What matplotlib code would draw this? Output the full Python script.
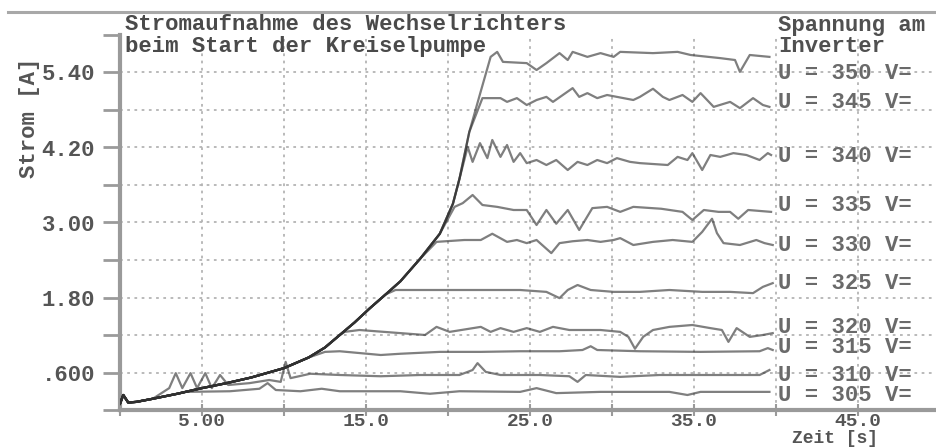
import matplotlib
matplotlib.use("Agg")
import matplotlib.pyplot as plt
from matplotlib.lines import Line2D
import numpy as np

# ---------------- data ----------------
# common start-up rise of the current (all runs follow it until they level off)
rise_t = [0.0, 0.2, 0.5, 1.0, 2.0, 3.5, 5.0, 6.5, 8.0, 10.0, 11.5, 12.5, 13.4, 14.3,
          15.2, 16.2, 17.1, 18.3, 19.5, 20.3, 20.7, 21.3, 22.0, 22.6, 23.0]
rise_v = [0.10, 0.24, 0.12, 0.13, 0.18, 0.26, 0.35, 0.43, 0.52, 0.67, 0.84, 1.00, 1.20, 1.40,
          1.62, 1.85, 2.06, 2.42, 2.82, 3.30, 3.70, 4.45, 5.10, 5.65, 5.73]

voltages = [350, 345, 340, 335, 330, 325, 320, 315, 310, 305]

t350 = [23.0, 23.35, 24.8, 25.4, 26.0, 26.8, 27.3, 27.6, 28.5, 29.3, 30.1, 30.5, 32.5, 34.0,
        34.8, 36.6, 37.5, 37.8, 38.4, 39.6]
v350 = [5.73, 5.57, 5.55, 5.44, 5.55, 5.71, 5.60, 5.73, 5.65, 5.71, 5.65, 5.73, 5.71, 5.73,
        5.68, 5.63, 5.60, 5.41, 5.68, 5.65]

t345 = [22.1, 23.2, 23.6, 24.2, 24.8, 25.4, 26.0, 26.4, 27.0, 27.6, 28.0, 28.5, 29.1, 29.7,
        30.3, 31.3, 31.7, 32.5, 33.1, 33.5, 34.3, 34.9, 35.4, 36.2, 37.2, 37.8, 38.6, 39.2, 39.6]
v345 = [4.99, 4.99, 4.93, 4.99, 4.88, 4.96, 5.01, 4.93, 5.04, 5.15, 5.01, 5.07, 4.99, 5.04,
        5.01, 4.96, 5.01, 5.14, 5.01, 4.96, 5.04, 4.93, 5.07, 4.85, 4.93, 4.83, 4.99, 4.88, 4.85]

t340 = [21.2, 21.5, 21.95, 22.4, 22.7, 23.2, 23.6, 24.0, 24.4, 24.8, 25.4, 26.0, 26.6, 27.3,
        27.9, 28.5, 29.1, 29.7, 30.3, 31.1, 31.7, 33.4, 34.0, 34.6, 34.9, 35.5, 36.0, 36.6,
        37.4, 38.2, 39.0, 39.5, 39.7]
v340 = [4.21, 3.97, 4.27, 4.03, 4.32, 4.05, 4.24, 3.97, 4.11, 3.95, 4.00, 3.92, 4.00, 3.84,
        3.97, 3.92, 4.00, 3.95, 4.03, 3.97, 3.95, 3.92, 4.05, 4.00, 4.11, 3.84, 4.08, 4.05,
        4.11, 4.08, 4.00, 4.11, 4.08]

t335 = [20.4, 20.9, 21.5, 22.1, 23.0, 24.0, 24.8, 25.4, 26.0, 26.6, 27.3, 28.0, 28.8, 29.7,
        30.5, 31.3, 33.0, 34.3, 34.9, 35.6, 36.5, 37.2, 37.7, 38.3, 39.7]
v335 = [3.25, 3.31, 3.44, 3.28, 3.25, 3.20, 3.20, 2.96, 3.20, 2.98, 3.20, 2.88, 3.23, 3.25,
        3.17, 3.25, 3.22, 3.17, 3.04, 3.20, 3.17, 3.17, 3.06, 3.20, 3.17]

t330 = [19.3, 21.0, 22.0, 22.7, 23.6, 24.2, 24.8, 25.4, 26.3, 26.8, 27.6, 28.5, 29.3, 30.1,
        30.5, 31.3, 32.5, 33.7, 34.9, 35.5, 36.1, 36.4, 36.8, 37.8, 38.8, 39.3, 39.8]
v330 = [2.69, 2.72, 2.72, 2.82, 2.69, 2.72, 2.67, 2.72, 2.51, 2.67, 2.70, 2.72, 2.69, 2.72,
        2.75, 2.64, 2.69, 2.72, 2.69, 2.85, 3.06, 2.83, 2.67, 2.64, 2.72, 2.67, 2.64]

t325 = [16.8, 19.5, 22.0, 24.4, 26.0, 26.8, 27.3, 27.9, 28.7, 30.1, 31.7, 33.5, 35.5, 37.2,
        38.6, 39.2, 39.8]
v325 = [1.92, 1.92, 1.92, 1.92, 1.89, 1.79, 1.92, 2.00, 1.92, 1.89, 1.89, 1.92, 1.89, 1.89,
        1.87, 1.97, 2.03]

t320 = [13.7, 14.6, 17.1, 18.6, 19.3, 20.1, 22.0, 22.6, 23.2, 24.0, 24.8, 25.6, 26.4, 27.4,
        29.3, 30.5, 31.0, 31.4, 31.9, 32.5, 33.5, 34.9, 36.0, 36.7, 37.1, 37.6, 38.4, 39.2, 39.8]
v320 = [1.25, 1.28, 1.23, 1.20, 1.33, 1.25, 1.33, 1.25, 1.31, 1.25, 1.31, 1.25, 1.33, 1.28,
        1.28, 1.25, 1.17, 0.98, 1.17, 1.28, 1.33, 1.36, 1.31, 1.28, 1.09, 1.31, 1.17, 1.20, 1.23]

t315 = [12.5, 13.4, 15.9, 17.1, 19.5, 22.0, 24.4, 26.8, 28.2, 28.7, 29.1, 31.7, 35.4, 39.0,
        39.5, 39.8]
v315 = [0.93, 0.94, 0.88, 0.90, 0.93, 0.93, 0.94, 0.94, 0.96, 1.02, 0.96, 0.94, 0.93, 0.94,
        0.99, 0.96]

t310 = [3.0, 3.4, 3.8, 4.3, 4.7, 5.2, 5.6, 6.1, 6.6, 7.9, 9.1, 9.8, 10.1, 10.4, 11.6, 13.4,
        15.9, 18.3, 20.7, 21.5, 21.8, 22.3, 23.2, 25.6, 27.4, 27.9, 28.4, 30.5, 32.9, 36.6,
        39.0, 39.6]
v310 = [0.35, 0.59, 0.35, 0.59, 0.35, 0.59, 0.35, 0.56, 0.40, 0.43, 0.48, 0.45, 0.77, 0.51,
        0.58, 0.56, 0.54, 0.56, 0.56, 0.64, 0.75, 0.61, 0.56, 0.56, 0.54, 0.45, 0.56, 0.53,
        0.56, 0.56, 0.56, 0.64]

t305 = [4.0, 6.7, 8.5, 9.0, 9.5, 11.0, 12.3, 13.4, 17.1, 18.9, 20.7, 24.4, 25.4, 26.6, 29.3,
        33.5, 34.6, 35.4, 39.6]
v305 = [0.29, 0.30, 0.34, 0.43, 0.32, 0.30, 0.34, 0.30, 0.30, 0.26, 0.30, 0.29, 0.35, 0.27,
        0.29, 0.29, 0.24, 0.29, 0.29]

series_t = [t350, t345, t340, t335, t330, t325, t320, t315, t310, t305]
series_v = [v350, v345, v340, v335, v330, v325, v320, v315, v310, v305]

# text
title_lines = ["Stromaufnahme des Wechselrichters", "beim Start der Kreiselpumpe"]
legend_head = ["Spannung am", "Inverter"]
label_v = [5.42, 4.96, 4.10, 3.31, 2.67, 2.06, 1.36, 1.04, 0.59, 0.27]
y_ticks = [0.0, 0.6, 1.2, 1.8, 2.4, 3.0, 3.6, 4.2, 4.8, 5.4, 6.0]
y_ticklabels = ["", ".600", "", "1.80", "", "3.00", "", "4.20", "", "5.40", ""]
x_ticks = [0, 5, 10, 15, 20, 25, 30, 35, 40, 45]
x_ticklabels = ["", "5.00", "", "15.0", "", "25.0", "", "35.0", "", "45.0"]
x_label = "Zeit [s]"
y_label = "Strom [A]"

# ---------------- figure ----------------
W, H = 937, 448
plt.rcParams["font.family"] = ["Liberation Mono", "DejaVu Sans Mono"]
plt.rcParams["font.weight"] = "bold"
FS = 16

fig = plt.figure(figsize=(W / 100, H / 100), dpi=100)
fig.patch.set_facecolor("white")
ax = fig.add_axes([120 / W, (H - 410) / H, 1 - 120 / W, 375 / H])
ax.set_xlim(0, (W - 120) / 16.4)
ax.set_ylim(0, 6.0)

# grid
ax.set_yticks(y_ticks)
ax.set_yticklabels(y_ticklabels)
ax.set_xticks(x_ticks)
ax.set_xticklabels(x_ticklabels)
ax.grid(True, color="#b4b4b4", linestyle=(0, (1.5, 2.5)), linewidth=1.3, zorder=0)
ax.set_axisbelow(True)
ax.yaxis.get_gridlines()[-1].set_visible(False)

for s in ["top", "right"]:
    ax.spines[s].set_visible(False)
for s in ["left", "bottom"]:
    ax.spines[s].set_color("#9a9a9a")
    ax.spines[s].set_linewidth(3)

ax.tick_params(axis="y", direction="out", length=12, width=2, color="#9a9a9a",
               pad=6, labelsize=FS, labelcolor="#555555")
ax.tick_params(axis="x", direction="inout", length=8, width=1.5, color="#9a9a9a",
               pad=-2, labelsize=14, labelcolor="#555555")

# curves
for ts, vs in zip(series_t, series_v):
    rt = [t for t, v in zip(rise_t, rise_v) if t < ts[0] and v <= vs[0]]
    rv = [v for t, v in zip(rise_t, rise_v) if t < ts[0] and v <= vs[0]]
    ax.plot(rt + ts, rv + vs, color="#303030", alpha=0.62, linewidth=1.6,
            solid_joinstyle="round", zorder=3)

# labels on the right
lab_x = (778 - 120) / 16.4
for volt, lv in zip(voltages, label_v):
    ax.text(lab_x, lv, f"U = {volt} V=", fontsize=FS, color="#6a6a6a",
            va="center_baseline", ha="left", zorder=4)

fig.text(778 / W, 1 - 31 / H, legend_head[0], fontsize=FS, color="#505050",
         va="baseline", ha="left")
fig.text(778 / W, 1 - 52 / H, legend_head[1], fontsize=FS, color="#505050",
         va="baseline", ha="left")

# title
fig.text(125 / W, 1 - 30 / H, title_lines[0], fontsize=FS, color="#4a4a4a",
         va="baseline", ha="left")
fig.text(125 / W, 1 - 52 / H, title_lines[1], fontsize=FS, color="#4a4a4a",
         va="baseline", ha="left")

# axis labels
fig.text(792 / W, 1 - 443 / H, x_label, fontsize=13, color="#555555",
         va="baseline", ha="left")
fig.text(30 / W, 1 - 118 / H, y_label, fontsize=FS, color="#555555",
         va="center", ha="center", rotation=90)

# top frame line
fig.add_artist(Line2D([8 / W, 1.0], [1 - 12 / H, 1 - 12 / H], color="#a8a8a8",
                      linewidth=2.2))

fig.savefig("out.png", dpi=100, facecolor="white")
